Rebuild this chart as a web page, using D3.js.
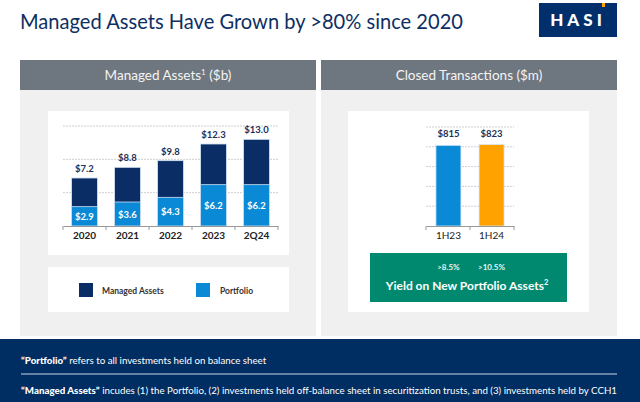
<!DOCTYPE html>
<html><head><meta charset="utf-8">
<script src="https://cdn.jsdelivr.net/npm/d3@7/dist/d3.min.js"></script>
<style>body{margin:0;background:#fff}svg{display:block}text{font-family:Lato,"Open Sans",sans-serif}</style>
</head><body>
<script>
const years = ["2020","2021","2022","2023","2Q24"];
const managedAssets = [7.2, 8.8, 9.8, 12.3, 13.0];
const portfolio = [2.9, 3.6, 4.3, 6.2, 6.2];
const leftTicks = [5, 10, 15];
const periods = ["1H23","1H24"];
const closedTx = [815, 823];
const rightTicks = [200, 400, 600, 800, 1000];
const yieldLabels = [">8.5%", ">10.5%"];

const NAVY = "#0b2d66", BLUE = "#0a89d6", ORANGE = "#ffa200", GREEN = "#00896f";
const svg = d3.select("body").append("svg").attr("width",640).attr("height",402);

// Title
svg.append("text").attr("x",20).attr("y",29).attr("font-size",22).attr("fill","#0e2f63")
  .attr("textLength",443).attr("lengthAdjust","spacingAndGlyphs")
  .text("Managed Assets Have Grown by >80% since 2020");
// logo
svg.append("rect").attr("x",539).attr("y",3).attr("width",78).attr("height",34).attr("fill","#002f6c");
svg.append("rect").attr("x",602).attr("y",3).attr("width",3).attr("height",4).attr("fill",ORANGE);
svg.append("text").attr("x",578).attr("y",26).attr("text-anchor","middle").attr("font-size",17)
  .attr("font-weight",900).attr("fill","#fff").attr("letter-spacing",4).text("HASI");

// Panels
function panel(x0,x1){
  svg.append("rect").attr("x",x0).attr("y",60).attr("width",x1-x0).attr("height",276).attr("fill","#f0f0f0");
  svg.append("rect").attr("x",x0).attr("y",60).attr("width",x1-x0).attr("height",30).attr("fill","#6e767f");
  return svg.append("text").attr("x",(x0+x1)/2).attr("y",80).attr("text-anchor","middle")
    .attr("font-size",13.5).attr("fill","#f4f4f4");
}
const lt = panel(20,316);
lt.append("tspan").text("Managed Assets");
lt.append("tspan").attr("font-size",8).attr("dy",-5).text("1");
lt.append("tspan").attr("dy",5).text(" ($b)");
panel(321,617).text("Closed Transactions ($m)");

svg.append("rect").attr("x",48).attr("y",111).attr("width",241).attr("height",144).attr("fill","#fff");
svg.append("rect").attr("x",48).attr("y",267).attr("width",241).attr("height",45).attr("fill","#fff");
svg.append("rect").attr("x",348).attr("y",111).attr("width",241).attr("height",201).attr("fill","#fff");

// Left chart
const xL = d3.scaleBand().domain(years).range([63,278]).paddingInner(0.4).paddingOuter(0.2);
const yL = d3.scaleLinear().domain([0,15]).range([226,126]);
const gL = svg.append("g");
gL.selectAll(".grid").data(leftTicks).join("line")
  .attr("x1",63).attr("x2",278).attr("y1",d=>yL(d)).attr("y2",d=>yL(d))
  .attr("stroke","#cfcfcf").attr("stroke-dasharray","2,1");
const lData = years.map((y,i)=>({y, m:managedAssets[i], p:portfolio[i]}));
gL.selectAll(".m").data(lData).join("rect")
  .attr("x",d=>xL(d.y)).attr("width",xL.bandwidth())
  .attr("y",d=>yL(d.m)).attr("height",d=>yL(0)-yL(d.m))
  .attr("fill",NAVY).attr("stroke","#cfe2f3").attr("stroke-width",0.8);
gL.selectAll(".p").data(lData).join("rect")
  .attr("x",d=>xL(d.y)).attr("width",xL.bandwidth())
  .attr("y",d=>yL(d.p)).attr("height",d=>yL(0)-yL(d.p))
  .attr("fill",BLUE).attr("stroke","#cfe2f3").attr("stroke-width",0.8);
gL.selectAll(".mt").data(lData).join("text")
  .attr("x",d=>xL(d.y)+xL.bandwidth()/2).attr("y",d=>yL(d.m)-6)
  .attr("text-anchor","middle").attr("font-size",9.5).attr("font-weight",700).attr("fill","#1b2f57")
  .text(d=>"$"+d.m.toFixed(1));
gL.selectAll(".pt").data(lData).join("text")
  .attr("x",d=>xL(d.y)+xL.bandwidth()/2).attr("y",d=>(yL(d.p)+yL(0))/2+3.5)
  .attr("text-anchor","middle").attr("font-size",9.5).attr("font-weight",700).attr("fill","#fff")
  .text(d=>"$"+d.p.toFixed(1));
const axLg = gL.append("g").attr("transform","translate(0,226)").call(d3.axisBottom(xL).tickSize(0).tickPadding(6));
axLg.select(".domain").attr("stroke","#999");
axLg.selectAll("text").attr("font-size",10).attr("font-weight",700).attr("fill","#222")
  .attr("font-family","Lato,sans-serif");
const edgesL = [xL.range()[0], ...years.map(y=>xL(y)+xL.bandwidth()+xL.step()*xL.paddingInner()/2)];
edgesL[edgesL.length-1] = xL.range()[1];
gL.selectAll(".tk").data(edgesL).join("line").attr("x1",d=>d).attr("x2",d=>d)
  .attr("y1",226).attr("y2",230).attr("stroke","#999");

// legend
svg.append("rect").attr("x",79).attr("y",283).attr("width",14).attr("height",14).attr("fill",NAVY);
svg.append("text").attr("x",102).attr("y",294).attr("font-size",8.5).attr("font-weight",700).attr("fill","#333").text("Managed Assets");
svg.append("rect").attr("x",196).attr("y",283).attr("width",14).attr("height",14).attr("fill",BLUE);
svg.append("text").attr("x",220).attr("y",294).attr("font-size",8.5).attr("font-weight",700).attr("fill","#333").text("Portfolio");

// Right chart
const xR = d3.scaleBand().domain(periods).range([426,514]).paddingInner(0.42).paddingOuter(0.23);
const yR = d3.scaleLinear().domain([0,1000]).range([226,127]);
const gR = svg.append("g");
gR.selectAll(".grid").data(rightTicks).join("line")
  .attr("x1",426).attr("x2",514).attr("y1",d=>yR(d)).attr("y2",d=>yR(d))
  .attr("stroke","#cfcfcf").attr("stroke-dasharray","2,1");
const rData = periods.map((p,i)=>({p, v:closedTx[i]}));
gR.selectAll(".b").data(rData).join("rect")
  .attr("x",d=>xR(d.p)).attr("width",xR.bandwidth())
  .attr("y",d=>yR(d.v)).attr("height",d=>yR(0)-yR(d.v))
  .attr("fill",(d,i)=>i===0?BLUE:ORANGE).attr("stroke","#d6e8f7").attr("stroke-width",0.8);
gR.selectAll(".bt").data(rData).join("text")
  .attr("x",d=>xR(d.p)+xR.bandwidth()/2).attr("y",d=>yR(d.v)-8)
  .attr("text-anchor","middle").attr("font-size",9.5).attr("font-weight",700).attr("fill","#1b2f57")
  .text(d=>"$"+d.v);
const axRg = gR.append("g").attr("transform","translate(0,226)").call(d3.axisBottom(xR).tickSize(0).tickPadding(6));
axRg.select(".domain").attr("stroke","#999");
axRg.selectAll("text").attr("font-size",10).attr("fill","#222").attr("font-family","Lato,sans-serif");
gR.selectAll(".tk").data([426,470,514]).join("line").attr("x1",d=>d).attr("x2",d=>d)
  .attr("y1",226).attr("y2",230).attr("stroke","#999");

// Green yield box
svg.append("rect").attr("x",370).attr("y",253).attr("width",197).attr("height",49).attr("fill",GREEN);
svg.selectAll(".yl").data(yieldLabels).join("text")
  .attr("x",(d,i)=>xR(periods[i])+xR.bandwidth()/2).attr("y",270)
  .attr("text-anchor","middle").attr("font-size",8).attr("fill","#e8f5f1").attr("font-weight",700).text(d=>d);
const yt = svg.append("text").attr("x",467).attr("y",290).attr("text-anchor","middle")
  .attr("font-size",12).attr("font-weight",700).attr("fill","#fff");
yt.append("tspan").text("Yield on New Portfolio Assets");
yt.append("tspan").attr("font-size",7.5).attr("dy",-5).text("2");

// Footer
svg.append("rect").attr("x",0).attr("y",339).attr("width",640).attr("height",63).attr("fill","#002d62");
const f1 = svg.append("text").attr("x",21).attr("y",364).attr("font-size",9.5).attr("fill","#fff");
f1.append("tspan").attr("font-weight",900).text("“Portfolio”");
f1.append("tspan").text(" refers to all investments held on balance sheet");
svg.append("line").attr("x1",21).attr("x2",617).attr("y1",374).attr("y2",374).attr("stroke","#c9d6e8").attr("stroke-width",1);
const f2 = svg.append("text").attr("x",21).attr("y",394).attr("font-size",9.5).attr("fill","#fff");
f2.append("tspan").attr("font-weight",900).text("“Managed Assets”");
f2.append("tspan").text(" incudes (1) the Portfolio, (2) investments held off-balance sheet in securitization trusts, and (3) investments held by CCH1");
const w2 = f2.node().getComputedTextLength();
if (w2 > 0) f2.attr("textLength",596).attr("lengthAdjust","spacingAndGlyphs");
const w1 = f1.node().getComputedTextLength();
if (w1 > 0) f1.attr("textLength",w1*596/w2).attr("lengthAdjust","spacingAndGlyphs");
</script>
</body></html>
